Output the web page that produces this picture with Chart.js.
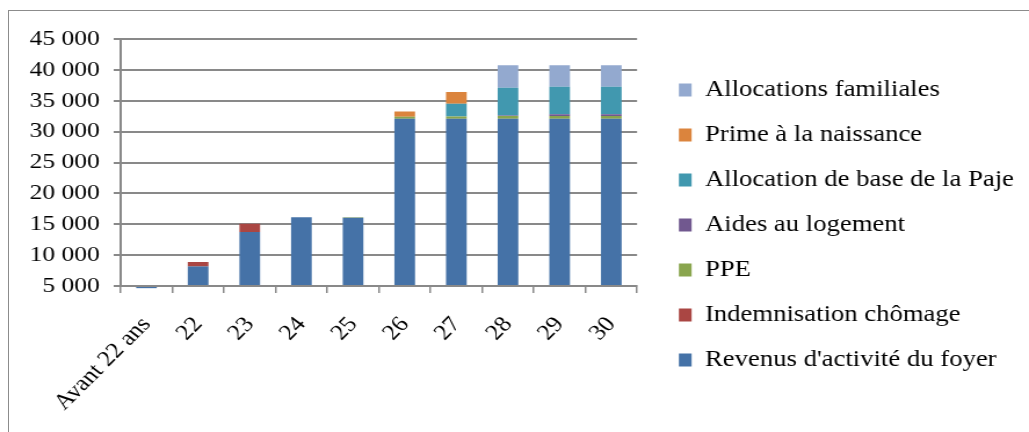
<!DOCTYPE html>
<html>
<head>
<meta charset="utf-8">
<script src="https://cdn.jsdelivr.net/npm/chart.js@4"></script>
<style>
  html, body { margin: 0; padding: 0; background: #fff; overflow: hidden; }
  body { width: 1029px; height: 432px; position: relative; }
  .frame { position: absolute; left: 8px; top: 10px; width: 1040px; height: 440px; border: 1px solid #8c8c8c; }
  #chart { position: absolute; left: 0; top: 0; }
</style>
</head>
<body>
<div class="frame"></div>
<!-- the source picture is stretched sideways, so the canvas is drawn narrower and scaled up -->
<canvas id="chart" width="887" height="432" style="width:1029px;height:432px"></canvas>
<script>
/* ======================================================================
Data
====================================================================== */
const ages = ['Avant 22 ans', '22', '23', '24', '25', '26', '27', '28', '29', '30'];

const revenus     = [4650, 8170, 13750, 16130, 16050, 32100, 32100, 32100, 32100, 32100];
const chomage     = [0, 700, 1350, 0, 0, 0, 0, 0, 0, 0];
const ppe         = [0, 0, 0, 0, 100, 300, 350, 450, 450, 450];
const logement    = [0, 0, 0, 0, 0, 0, 0, 60, 250, 250];
const paje        = [0, 0, 0, 0, 0, 0, 2050, 4480, 4450, 4450];
const prime       = [0, 0, 0, 0, 0, 850, 1900, 0, 0, 0];
const allocations = [0, 0, 0, 0, 0, 0, 0, 3660, 3500, 3500];

const yMin = 5000;
const yMax = 45000;
const yStep = 5000;

/* ======================================================================
Chart
====================================================================== */
const font = { family: "'Liberation Serif', 'Times New Roman', serif", size: 22 };
const legendFont = { family: "'Liberation Serif', 'Times New Roman', serif", size: 23 };
const gridGray = '#898989';

function thousands(v) {
  return String(v).replace(/\B(?=(\d{3})+(?!\d))/g, ' ');
}

const datasets = [
  { label: "Revenus d'activité du foyer", data: revenus, backgroundColor: '#4572A7', base: yMin, clip: false },
  { label: 'Indemnisation chômage', data: chomage, backgroundColor: '#AA4643' },
  { label: 'PPE', data: ppe, backgroundColor: '#89A54E' },
  { label: 'Aides au logement', data: logement, backgroundColor: '#71588F' },
  { label: 'Allocation de base de la Paje', data: paje, backgroundColor: '#4198AF' },
  { label: 'Prime à la naissance', data: prime, backgroundColor: '#DB843D' },
  { label: 'Allocations familiales', data: allocations, backgroundColor: '#93A9CF' }
];
datasets.forEach(d => {
  d.barPercentage = 0.4;
  d.categoryPercentage = 1;
  d.borderWidth = 0;
});

new Chart(document.getElementById('chart'), {
  type: 'bar',
  data: { labels: ages, datasets: datasets },
  options: {
    responsive: false,
    devicePixelRatio: 1,
    animation: false,
    layout: { padding: { top: 39, bottom: 21, left: 0, right: 3 } },
    plugins: {
      legend: {
        position: 'right',
        reverse: true,
        maxWidth: 400,
        labels: {
          font: legendFont,
          color: '#000',
          boxWidth: 11,
          boxHeight: 13,
          padding: 22
        }
      },
      tooltip: { enabled: false }
    },
    scales: {
      x: {
        stacked: true,
        offset: true,
        grid: { display: true, drawOnChartArea: false, offset: true, tickLength: 7, color: gridGray, lineWidth: 1.5 },
        border: { display: true, color: gridGray, width: 2 },
        // 49 deg here shows as 45 deg once the canvas is stretched
        ticks: { font: font, color: '#000', minRotation: 49, maxRotation: 49, autoSkip: false, padding: 19 },
        afterFit: s => { s.height = 125; }
      },
      y: {
        stacked: true,
        min: yMin,
        max: yMax,
        grid: { color: gridGray, lineWidth: 2, tickLength: 6 },
        border: { display: true, color: gridGray, width: 2 },
        ticks: { stepSize: yStep, font: font, color: '#000', padding: 12, callback: v => thousands(v) },
        afterFit: s => { s.width = 104; }
      },
      gap: {
        position: 'right',
        display: true,
        grid: { display: false },
        border: { display: false },
        ticks: { display: false },
        afterFit: s => { s.width = 14; }
      }
    }
  }
});
</script>
</body>
</html>
